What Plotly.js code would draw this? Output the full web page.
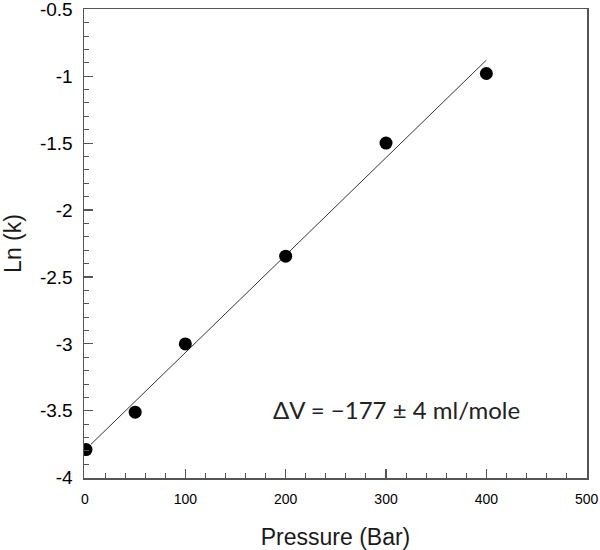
<!DOCTYPE html>
<html>
<head>
<meta charset="utf-8">
<script src="https://cdn.plot.ly/plotly-3.0.1.min.js"></script>
<style>html,body{margin:0;padding:0;background:#fff;}#chart{width:600px;height:550px;}</style>
</head>
<body>
<div id="chart"></div>
<script>
var pressure = [1, 50, 100, 200, 300, 400];
var lnK = [-3.79, -3.51, -3.0, -2.345, -1.50, -0.98];
var fitPressure = [6, 400];
var fitLnK = [-3.75, -0.88];
var xTicks = [0, 100, 200, 300, 400, 500];
var yTicks = [-4, -3.5, -3, -2.5, -2, -1.5, -1, -0.5];
var annotationText = "ΔV = −177 ± 4 ml/mole";

var traces = [
  {x: fitPressure, y: fitLnK, mode: 'lines', type: 'scatter',
   line: {color: '#333', width: 1}, hoverinfo: 'skip', showlegend: false},
  {x: pressure, y: lnK, mode: 'markers', type: 'scatter',
   marker: {color: '#000', size: 13}, showlegend: false}
];

var layout = {
  width: 600, height: 550,
  margin: {l: 84, r: 13, t: 9, b: 72},
  paper_bgcolor: '#fff', plot_bgcolor: '#fff',
  font: {family: 'Arial, "Liberation Sans", sans-serif', color: '#000'},
  xaxis: {
    range: [-1, 500.3], tickvals: xTicks, ticktext: xTicks.map(String),
    showgrid: false, zeroline: false, automargin: false,
    showline: true, linecolor: '#555', linewidth: 1.5, mirror: true,
    ticks: 'inside', ticklen: 9, tickwidth: 1.2, tickcolor: '#555',
    minor: {ticks: 'inside', dtick: 20, tick0: 0, ticklen: 5, tickwidth: 1, tickcolor: '#555', showgrid: false},
    tickfont: {size: 14, color: '#000'}, ticklabelstandoff: 8, ticklabeloverflow: 'allow',
    title: {text: 'Pressure (Bar)', font: {size: 23, color: '#1a1a1a'}}
  },
  yaxis: {
    range: [-4.002, -0.498], tickvals: yTicks, ticktext: yTicks.map(String),
    showgrid: false, zeroline: false, automargin: false,
    showline: true, linecolor: '#555', linewidth: 1.5, mirror: true,
    ticks: 'inside', ticklen: 9, tickwidth: 1.2, tickcolor: '#555',
    minor: {ticks: 'inside', dtick: 0.1, tick0: -4, ticklen: 5, tickwidth: 1, tickcolor: '#555', showgrid: false},
    tickfont: {size: 19, color: '#000'}, ticklabelstandoff: 6, ticklabeloverflow: 'allow',
    title: {text: 'Ln (k)', font: {size: 23, color: '#1a1a1a'}, standoff: 20}
  },
  annotations: [{
    x: 310, y: -3.49, xref: 'x', yref: 'y', showarrow: false,
    text: annotationText, font: {family: 'Lato, Carlito, sans-serif', size: 24, color: '#222'}
  }]
};

Plotly.newPlot('chart', traces, layout, {displayModeBar: false, staticPlot: true});
</script>
</body>
</html>
